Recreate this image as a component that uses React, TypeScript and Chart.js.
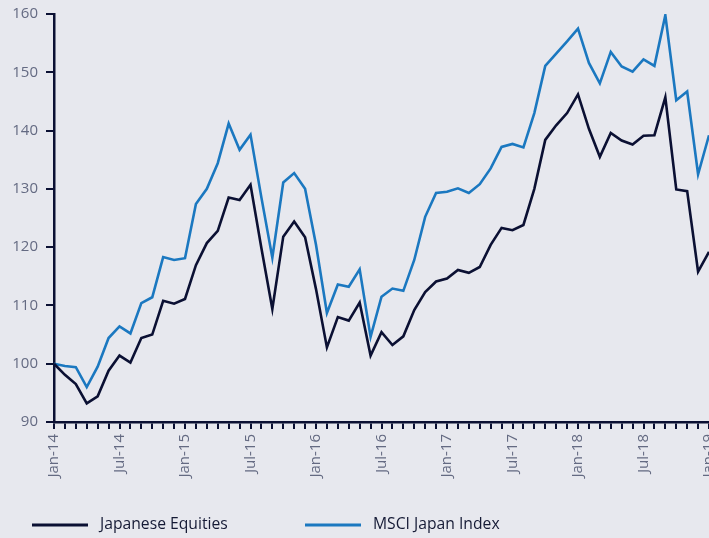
import React, { useEffect, useRef } from "react";
import { Chart, registerables } from "chart.js";

Chart.register(...registerables);

const months: string[] = [
  "Jan-14","Feb-14","Mar-14","Apr-14","May-14","Jun-14","Jul-14","Aug-14","Sep-14","Oct-14","Nov-14","Dec-14",
  "Jan-15","Feb-15","Mar-15","Apr-15","May-15","Jun-15","Jul-15","Aug-15","Sep-15","Oct-15","Nov-15","Dec-15",
  "Jan-16","Feb-16","Mar-16","Apr-16","May-16","Jun-16","Jul-16","Aug-16","Sep-16","Oct-16","Nov-16","Dec-16",
  "Jan-17","Feb-17","Mar-17","Apr-17","May-17","Jun-17","Jul-17","Aug-17","Sep-17","Oct-17","Nov-17","Dec-17",
  "Jan-18","Feb-18","Mar-18","Apr-18","May-18","Jun-18","Jul-18","Aug-18","Sep-18","Oct-18","Nov-18","Dec-18",
  "Jan-19",
];

const japaneseEquities: number[] = [
  100, 98.1, 96.5, 93.2, 94.4, 98.8, 101.4, 100.2, 104.4, 105.0, 110.8, 110.3,
  111.1, 116.9, 120.7, 122.8, 128.5, 128.1, 130.7, 119.8, 109.4, 121.8, 124.4, 121.7,
  112.8, 102.8, 108.0, 107.4, 110.5, 101.4, 105.4, 103.2, 104.7, 109.2, 112.3, 114.1,
  114.6, 116.1, 115.6, 116.6, 120.4, 123.3, 122.9, 123.8, 130.0, 138.4, 140.9, 143.0,
  146.2, 140.3, 135.5, 139.6, 138.3, 137.6, 139.1, 139.2, 145.7, 129.9, 129.6, 115.8,
  119.2,
];

const msciJapan: number[] = [
  100, 99.6, 99.4, 96.0, 99.5, 104.4, 106.4, 105.2, 110.4, 111.4, 118.3, 117.8,
  118.1, 127.4, 130.0, 134.4, 141.2, 136.7, 139.3, 128.5, 118.2, 131.1, 132.7, 130.0,
  120.4, 108.7, 113.6, 113.2, 116.2, 104.6, 111.5, 112.9, 112.5, 117.8, 125.2, 129.3,
  129.5, 130.1, 129.3, 130.8, 133.5, 137.2, 137.7, 137.1, 143.0, 151.1, 153.2, 155.3,
  157.5, 151.6, 148.1, 153.5, 151.0, 150.1, 152.2, 151.1, 159.8, 145.2, 146.7, 132.5,
  139.2,
];

const seriesNames: string[] = ["Japanese Equities", "MSCI Japan Index"];
const seriesColors: string[] = ["#0b1033", "#1b78c0"];

const AXIS_COLOR = "#0b1033";
const TICK_TEXT = "#646a82";
const BG = "#e7e8ee";
const FONT = "'Open Sans', 'Noto Sans', sans-serif";

const legendPlugin = {
  id: "customLegend",
  afterDraw(chart: any) {
    const ctx = chart.ctx;
    const starts = [32, 305];
    const y = 525;
    ctx.save();
    chart.data.datasets.forEach((ds: any, i: number) => {
      const x0 = starts[i];
      ctx.strokeStyle = ds.borderColor;
      ctx.lineWidth = 3;
      ctx.beginPath();
      ctx.moveTo(x0, y);
      ctx.lineTo(x0 + 56, y);
      ctx.stroke();
      ctx.fillStyle = "#151a35";
      ctx.font = `15.7px ${FONT}`;
      ctx.textBaseline = "middle";
      ctx.textAlign = "left";
      ctx.fillText(ds.label, x0 + 68, y);
    });
    ctx.restore();
  },
};

export default function App() {
  const ref = useRef<HTMLCanvasElement | null>(null);

  useEffect(() => {
    if (!ref.current) return;
    const chart = new Chart(ref.current, {
      type: "line",
      data: {
        labels: months,
        datasets: [
          {
            label: seriesNames[0],
            data: japaneseEquities,
            borderColor: seriesColors[0],
            backgroundColor: seriesColors[0],
            borderWidth: 2.6,
            pointRadius: 0,
            tension: 0,
          },
          {
            label: seriesNames[1],
            data: msciJapan,
            borderColor: seriesColors[1],
            backgroundColor: seriesColors[1],
            borderWidth: 2.6,
            pointRadius: 0,
            tension: 0,
          },
        ],
      },
      options: {
        responsive: false,
        animation: false,
        layout: { padding: { top: 14, right: 51, bottom: 0, left: 0 } },
        plugins: {
          legend: { display: false },
          tooltip: { enabled: false },
        },
        scales: {
          x: {
            type: "category",
            offset: false,
            border: { display: true, color: AXIS_COLOR, width: 2.5 },
            grid: {
              display: true,
              drawOnChartArea: false,
              drawTicks: true,
              tickLength: 7,
              color: AXIS_COLOR,
              lineWidth: 2,
              offset: false,
            },
            ticks: {
              autoSkip: false,
              maxRotation: 90,
              minRotation: 90,
              padding: 5,
              color: TICK_TEXT,
              font: { family: FONT, size: 15 },
              callback: (_v: any, i: number) => (i % 6 === 0 ? months[i] : ""),
            },
            afterFit: (s: any) => {
              s.height = 116;
              s.paddingLeft = 0;
            },
          },
          y: {
            min: 90,
            max: 160,
            border: { display: true, color: AXIS_COLOR, width: 2.5 },
            grid: {
              display: true,
              drawOnChartArea: false,
              drawTicks: true,
              tickLength: 8,
              color: AXIS_COLOR,
              lineWidth: 2,
            },
            ticks: {
              stepSize: 10,
              padding: 8,
              color: TICK_TEXT,
              font: { family: FONT, size: 15 },
            },
            afterFit: (s: any) => {
              s.width = 54;
              s.paddingTop = 0;
              s.paddingBottom = 0;
            },
          },
        },
      },
      plugins: [legendPlugin],
    });
    return () => chart.destroy();
  }, []);

  return (
    <div
      style={{
        position: "fixed",
        left: 0,
        top: 0,
        width: 709,
        height: 538,
        overflow: "hidden",
        background: BG,
      }}
    >
      <canvas ref={ref} width={760} height={538} style={{ display: "block" }} />
    </div>
  );
}
